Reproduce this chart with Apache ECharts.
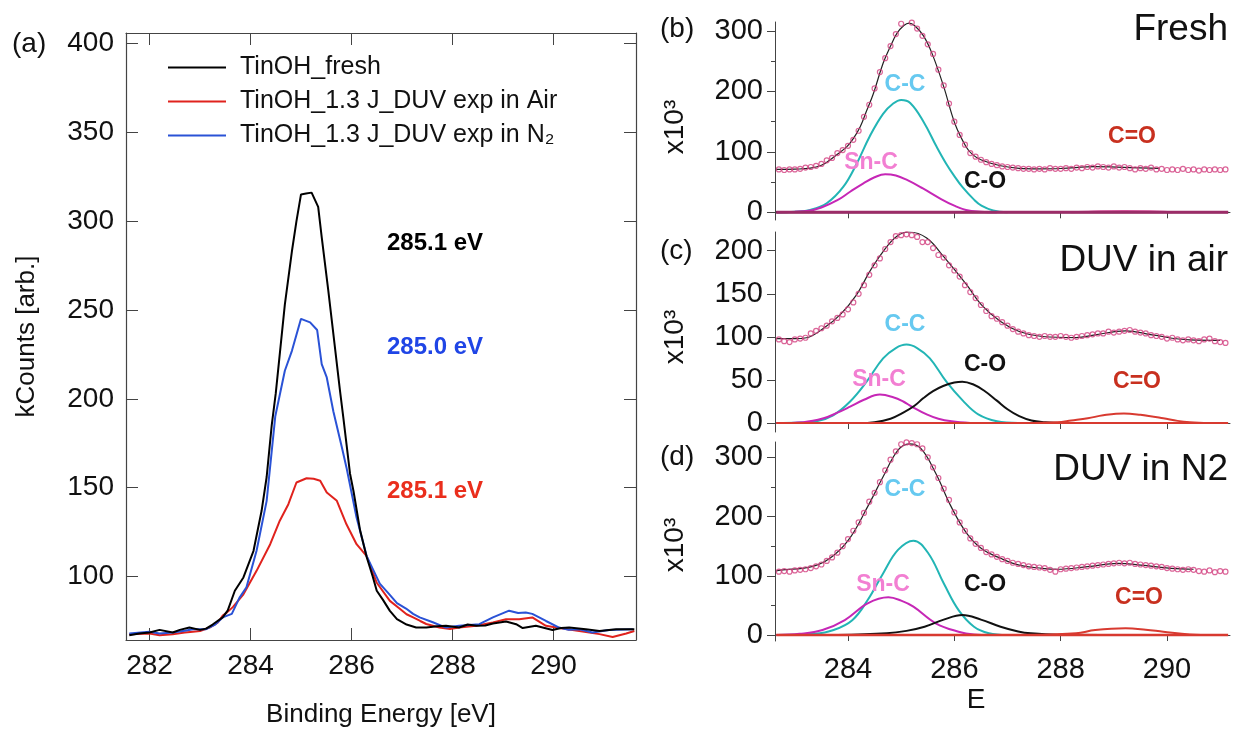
<!DOCTYPE html>
<html lang="en">
<head>
<meta charset="UTF-8">
<title>C1s XPS</title>
<script src="https://cdn.jsdelivr.net/npm/echarts@6/dist/echarts.min.js"></script>
<style>
  html, body { margin: 0; padding: 0; background: #fff; }
  #main { width: 1235px; height: 733px; }
</style>
</head>
<body>
<div id="main"></div>
<script>
// ---- (a) C1s spectra, [binding energy, kCounts]
var freshCurve = [[281.6,67],[281.8,68],[282.0,68.5],[282.2,70],[282.46,68.5],[282.6,70],[282.79,71.3],[283.0,70],[283.12,70.7],[283.25,73],[283.45,77],[283.55,81],[283.69,92],[283.86,99.5],[284.06,114.5],[284.22,137],[284.32,156],[284.42,185],[284.5,203],[284.68,253],[284.82,283],[284.91,300],[285.0,315],[285.1,315.5],[285.21,316],[285.34,308],[285.41,291],[285.54,261],[285.61,244],[285.77,205],[285.84,189],[285.97,158],[286.04,148],[286.17,126],[286.3,111],[286.42,100],[286.5,92],[286.62,87],[286.76,80.7],[286.9,76],[287.09,73],[287.28,71.3],[287.48,71.3],[287.7,72],[287.87,72.3],[288.13,71.3],[288.3,73],[288.47,72.3],[288.65,72.5],[288.8,73.6],[289.06,74.7],[289.26,73.2],[289.39,71],[289.65,72.3],[289.98,69.9],[290.15,71],[290.31,71.3],[290.64,70.4],[290.91,69.4],[291.24,70.4],[291.6,70.4]];
var airCurve = [[281.6,67.6],[282.0,68],[282.2,67],[282.46,67.6],[282.7,68.5],[282.86,69],[283.0,69.4],[283.19,71.3],[283.35,74],[283.45,78],[283.53,79.7],[283.65,82.8],[283.86,90],[284.12,103.2],[284.39,118.2],[284.58,131.4],[284.75,140.7],[284.91,152.9],[285.11,155.3],[285.25,155],[285.38,153.9],[285.51,147.3],[285.71,142.6],[285.9,129.4],[286.1,118.2],[286.3,111.5],[286.5,96.5],[286.76,86.3],[286.95,82],[287.09,78.8],[287.22,77],[287.36,75],[287.48,73.3],[287.74,71.3],[287.95,70.5],[288.13,71.3],[288.47,72.3],[288.8,74.2],[289.06,76],[289.32,76],[289.58,77],[289.85,72.3],[290.11,71],[290.51,69.4],[290.91,67.6],[291.17,66],[291.44,68],[291.6,69.4]];
var n2Curve = [[281.6,68],[282.0,69],[282.2,68],[282.46,68.5],[282.7,69.5],[282.86,70.4],[283.12,70.4],[283.3,73],[283.45,77],[283.63,79],[283.78,88],[283.92,94],[284.12,114.5],[284.32,142.6],[284.49,190],[284.68,215.8],[284.82,227],[285.0,245],[285.18,243],[285.32,238.7],[285.41,219.5],[285.51,212],[285.64,193],[285.81,172.6],[285.9,161.4],[286.1,133.2],[286.3,111.5],[286.56,96],[286.75,90],[286.9,85],[287.08,82],[287.22,79],[287.35,77],[287.61,74.3],[287.87,71.3],[288.13,72.3],[288.53,73.2],[288.8,77],[289.12,80.8],[289.3,79.5],[289.45,79.8],[289.58,79],[289.85,75],[290.11,71.3],[290.3,70],[290.51,70.4],[290.77,68.5],[291.1,69.9],[291.57,70.4]];
var seriesNames = ['TinOH_fresh', 'TinOH_1.3 J_DUV exp in Air', 'TinOH_1.3 J_DUV exp in N\u2082'];
var seriesColors = ['#000000', '#e0221d', '#2a52d6'];
var peakLabels = ['285.1 eV', '285.0 eV', '285.1 eV'];
var xTicksA = [282, 284, 286, 288, 290];
var yTicksA = [100, 150, 200, 250, 300, 350, 400];

// ---- (b)-(d) peak fits, measured points share one energy grid
var dotE = [282.7,282.8,282.9,283.0,283.1,283.2,283.3,283.4,283.5,283.6,283.7,283.8,283.9,284.0,284.1,284.2,284.3,284.4,284.5,284.6,284.7,284.8,284.9,285.0,285.1,285.2,285.3,285.4,285.5,285.6,285.7,285.8,285.9,286.0,286.1,286.2,286.3,286.4,286.5,286.6,286.7,286.8,286.9,287.0,287.1,287.2,287.3,287.4,287.5,287.6,287.7,287.8,287.9,288.0,288.1,288.2,288.3,288.4,288.5,288.6,288.7,288.8,288.9,289.0,289.1,289.2,289.3,289.4,289.5,289.6,289.7,289.8,289.9,290.0,290.1,290.2,290.3,290.4,290.5,290.6,290.7,290.8,290.9,291.0,291.1];
var dotsB = [71,70,71,71,72,74,75,77,80,86, 90,98,103,110,120,135,158,178,205,232, 255,275,295,312,316,314,304,292,278,262, 236,210,180,150,128,112,98,92,87,83, 80,78,76,75,74,73,72,72,71,72, 71,73,72,72,73,72,74,73,75,74, 76,75,74,76,74,75,73,71,73,72, 74,71,72,70,71,70,72,70,71,69, 71,70,71,70,71];
var dotsC = [97,95,94,97,98,99,104,107,110,113, 118,122,126,132,140,150,160,172,183,191, 202,210,217,218,219,218,216,210,210,203, 195,192,183,177,170,160,152,145,137,130, 124,121,117,113,109,106,104,102,101,100, 101,100,100,101,100,99,100,101,102,103, 104,104,106,105,106,107,108,106,105,104, 102,101,100,98,99,97,96,97,96,95, 97,98,95,94,93];
var dotsD = [107,108,107,109,110,111,113,116,119,125, 131,139,150,162,176,190,206,225,240,258, 278,296,310,322,325,324,322,315,300,283, 265,247,228,207,190,176,163,154,147,140, 136,132,128,125,122,120,118,116,115,114, 113,110,107,111,112,113,114,115,116,117, 118,119,120,121,122,121,122,120,119,118, 117,116,115,113,112,111,110,111,110,108, 107,109,106,108,107];

var fitB = [[282.65,71],[283.0,71.5],[283.29,73],[283.5,78],[283.66,86.6],[283.8,96],[283.98,108.6],[284.1,122],[284.23,141.7],[284.35,168],[284.48,197],[284.66,246.7],[284.8,275],[284.92,296],[285.05,309],[285.15,313],[285.25,309],[285.42,292],[285.58,263],[285.8,208],[286.01,147],[286.22,108.6],[286.35,95],[286.51,86.6],[286.87,77],[287.22,72.8],[287.6,72],[288.0,72.5],[288.65,75.5],[289.3,74],[289.86,72.8]];
var ccB = [[282.65,0],[283.0,1],[283.29,4],[283.6,15],[283.91,42],[284.16,80],[284.41,126],[284.66,163],[284.85,180],[285.0,186],[285.17,181],[285.42,150],[285.67,108],[285.85,80],[286.0,60],[286.15,42],[286.37,21],[286.51,11],[286.73,3],[287.0,0]];
var snB = [[282.65,0],[283.0,1],[283.23,2],[283.5,8],[283.8,20],[284.04,34],[284.29,48],[284.5,58],[284.7,63],[284.9,61],[285.1,54],[285.4,40],[285.75,22],[286.0,11],[286.22,4],[286.5,1],[286.8,0]];
var coB = [[282.65,0],[291.15,0]];
var cdoB = [[288.2,0],[288.6,1.5],[289.2,2],[289.8,1.5],[290.1,0]];

var fitC = [[282.65,98],[283.0,98],[283.22,99],[283.54,110],[283.85,125.6],[284.16,148.8],[284.41,176],[284.66,199],[284.92,216.7],[285.15,221.7],[285.48,214.7],[285.8,193],[286.23,160.5],[286.51,137.2],[286.87,117.8],[287.22,106.2],[287.65,100.4],[288.29,99.2],[288.65,102.3],[289.22,107],[289.72,102.3],[290.43,96.5],[291.0,96]];
var ccC = [[282.65,0],[283.1,0.5],[283.41,2],[283.72,9],[284.04,25],[284.35,48],[284.66,75],[284.9,87],[285.1,91],[285.3,87],[285.54,75],[285.85,48],[286.16,26],[286.45,10],[286.8,2],[287.2,0]];
var snC = [[282.65,0],[283.16,1],[283.54,5.5],[283.8,12],[284.04,19],[284.3,27],[284.6,33],[284.85,30],[285.04,25],[285.2,19],[285.48,10],[285.7,5],[285.95,2],[286.3,0]];
var coC = [[284.2,0],[284.5,1],[284.8,5],[285.04,12],[285.25,20],[285.42,29],[285.6,37],[285.79,43],[286.0,47],[286.15,48],[286.35,45],[286.55,38],[286.8,26],[287.0,16],[287.22,8],[287.45,3],[287.7,1],[288.0,0],[290.5,0]];
var cdoC = [[287.3,0],[287.94,1],[288.2,3],[288.51,5.5],[288.8,9],[289.19,11.2],[289.5,9.5],[289.93,5.5],[290.2,2.5],[290.43,1],[290.8,0]];

var fitD = [[282.65,108],[282.73,109.5],[283.3,115],[283.66,129.5],[284.01,160.5],[284.37,216.7],[284.66,267],[284.94,312],[285.15,322.6],[285.37,315],[285.65,273],[285.94,216.7],[286.23,172],[286.51,146],[286.87,129.5],[287.22,118],[287.65,112.6],[287.94,111],[288.51,115.4],[289.08,121],[289.51,118],[290.08,112.6],[290.5,111]];
var ccD = [[282.65,0],[283.37,2],[283.73,8.4],[284.08,25],[284.37,59],[284.66,104],[284.94,143.6],[285.23,159.3],[285.51,138],[285.8,87.3],[286.08,42],[286.37,14],[286.65,3],[287.0,0]];
var snD = [[282.65,0],[283.09,2],[283.52,8.4],[283.94,25.3],[284.37,53.5],[284.76,63.6],[285.0,58],[285.23,47.8],[285.65,19.8],[286.08,5.6],[286.37,1],[286.7,0]];
var coD = [[283.8,0],[284.73,2.8],[285.1,7],[285.44,14],[285.8,26],[286.15,33.8],[286.5,26],[286.87,14],[287.2,6],[287.44,2.8],[287.94,0.5],[290.5,0]];
var cdoD = [[287.5,0],[288.29,2.8],[288.65,8.4],[289.22,11.3],[289.6,9],[289.93,5.6],[290.43,1],[290.9,0]];

var zeroLine = [[282.65,0],[291.15,0]];
var xTicksFit = [284, 286, 288, 290];
var panelTitles = ['Fresh', 'DUV in air', 'DUV in N2'];
var compNames = ['C-C', 'Sn-C', 'C-O', 'C=O'];

var FONT = '"Liberation Sans", Arial, sans-serif';
var AXC = '#444';

function dots(ys) {
    var out = [];
    for (var i = 0; i < ys.length; i++) out.push([dotE[i], ys[i]]);
    return out;
}

function lineSeries(data, color, width, xi, yi, smooth, z) {
    return {
        type: 'line', data: data, xAxisIndex: xi, yAxisIndex: yi,
        showSymbol: false, smooth: smooth, z: z || 2, silent: true,
        itemStyle: { color: color },
        lineStyle: { color: color, width: width }
    };
}

var myChart = echarts.init(document.getElementById('main'));

// fit panel axes
function fitX(gi, labels) {
    return {
        type: 'value', gridIndex: gi, min: 282.627, max: 291.185,
        splitLine: { show: false },
        axisLine: { lineStyle: { color: AXC, width: 1 } },
        axisTick: { customValues: xTicksFit, length: 6, lineStyle: { color: AXC } },
        axisLabel: { show: labels, customValues: xTicksFit, fontSize: 29, fontFamily: FONT, color: '#111', margin: 14 }
    };
}
function fitY(gi, min, max, ticks) {
    return {
        type: 'value', gridIndex: gi, min: min, max: max,
        splitLine: { show: false },
        axisLine: { show: true, lineStyle: { color: AXC, width: 1 } },
        axisTick: { customValues: ticks, length: 8, lineStyle: { color: AXC } },
        axisLabel: { customValues: ticks, fontSize: 29, fontFamily: FONT, color: '#111', margin: 12 }
    };
}
function minorY(gi, min, max, ticks) {
    return {
        type: 'value', gridIndex: gi, min: min, max: max, position: 'left',
        splitLine: { show: false }, axisLine: { show: false },
        axisTick: { customValues: ticks, length: 4, lineStyle: { color: AXC } },
        axisLabel: { show: false }
    };
}

var series = [
    lineSeries(freshCurve, seriesColors[0], 2, 0, 0, false, 4),
    lineSeries(airCurve, seriesColors[1], 2, 0, 0, false, 3),
    lineSeries(n2Curve, seriesColors[2], 2, 0, 0, false, 3)
];
series[0].name = seriesNames[0];
series[1].name = seriesNames[1];
series[2].name = seriesNames[2];

var panels = [
    { xi: 2, yi: 2, fit: fitB, dots: dotsB, cc: ccB, sn: snB, co: coB, cdo: cdoB, cdoColor: '#e060a8', base: '#9c2c68', baseW: 3 },
    { xi: 3, yi: 4, fit: fitC, dots: dotsC, cc: ccC, sn: snC, co: coC, cdo: cdoC, cdoColor: '#d83a30', base: '#d83a30', baseW: 2 },
    { xi: 4, yi: 5, fit: fitD, dots: dotsD, cc: ccD, sn: snD, co: coD, cdo: cdoD, cdoColor: '#d83a30', base: '#d83a30', baseW: 2.5 }
];
panels.forEach(function (p) {
    series.push(lineSeries(p.cc, '#22b5b5', 2, p.xi, p.yi, 0.4, 3));
    series.push(lineSeries(p.sn, '#c627b6', 2, p.xi, p.yi, 0.4, 3));
    series.push(lineSeries(p.co, '#111111', 2, p.xi, p.yi, 0.4, 3));
    series.push(lineSeries(p.cdo, p.cdoColor, 2, p.xi, p.yi, 0.4, 3));
    series.push(lineSeries(zeroLine, p.base, p.baseW, p.xi, p.yi, false, 4));
    series.push(lineSeries(p.fit, '#222222', 1.2, p.xi, p.yi, 0.4, 5));
    series.push({
        type: 'scatter', data: dots(p.dots), xAxisIndex: p.xi, yAxisIndex: p.yi,
        symbol: 'circle', symbolSize: 5, z: 6, silent: true,
        itemStyle: { color: 'rgba(255,255,255,0)', borderColor: '#d2407f', borderWidth: 1.2 }
    });
});

function txt(x, y, s, size, color, opts) {
    opts = opts || {};
    return {
        type: 'text', x: x, y: y, rotation: opts.rot || 0, z: 10, silent: true,
        style: {
            text: s, fill: color, fontSize: size, fontFamily: FONT,
            fontWeight: opts.bold ? 'bold' : 'normal',
            align: opts.align || 'center', textAlign: opts.align || 'center',
            verticalAlign: 'middle', textVerticalAlign: 'middle'
        }
    };
}

var labelColors = ['#66c9f0', '#f27fd2', '#111111', '#c8301f'];
var compPos = [
    [[905, 85], [871, 163], [985, 182], [1132, 137]],
    [[905, 325], [879, 380], [985, 365], [1137, 382]],
    [[905, 490], [883, 585], [985, 585], [1139, 598]]
];
var graphics = [
    txt(12, 44, '(a)', 28, '#111', { align: 'left' }),
    txt(660, 29, '(b)', 28, '#111', { align: 'left' }),
    txt(660, 251, '(c)', 28, '#111', { align: 'left' }),
    txt(660, 457, '(d)', 28, '#111', { align: 'left' }),
    txt(1228, 30, panelTitles[0], 37, '#111', { align: 'right' }),
    txt(1228, 261, panelTitles[1], 37, '#111', { align: 'right' }),
    txt(1228, 470, panelTitles[2], 37, '#111', { align: 'right' }),
    txt(387, 243, peakLabels[0], 24, '#000000', { align: 'left', bold: true }),
    txt(387, 347, peakLabels[1], 24, '#1f45e6', { align: 'left', bold: true }),
    txt(387, 491, peakLabels[2], 24, '#ea2e1c', { align: 'left', bold: true }),
    txt(675, 127, 'x10\u00b3', 28, '#111', { rot: Math.PI / 2 }),
    txt(675, 337, 'x10\u00b3', 28, '#111', { rot: Math.PI / 2 }),
    txt(675, 545, 'x10\u00b3', 28, '#111', { rot: Math.PI / 2 }),
    txt(976, 700, 'E', 28, '#111')
];
compPos.forEach(function (row) {
    row.forEach(function (pos, k) {
        graphics.push(txt(pos[0], pos[1], compNames[k], 23, labelColors[k], { bold: true }));
    });
});

var option = {
    animation: false,
    backgroundColor: '#ffffff',
    textStyle: { fontFamily: FONT },
    grid: [
        { left: 126, top: 33, width: 510, height: 609 },
        { left: 775, top: 22, width: 455, height: 198 },
        { left: 775, top: 232, width: 455, height: 200 },
        { left: 775, top: 442, width: 455, height: 199 }
    ],
    legend: {
        data: seriesNames, orient: 'vertical', left: 163, top: 50,
        icon: 'rect', itemWidth: 58, itemHeight: 2, itemGap: 9,
        textStyle: { fontSize: 25, fontFamily: FONT, color: '#111', padding: [0, 0, 0, 9] }
    },
    xAxis: [
        {
            type: 'value', gridIndex: 0, min: 281.535, max: 291.633,
            splitLine: { show: false },
            axisLine: { lineStyle: { color: AXC, width: 1.2 } },
            axisTick: { inside: true, customValues: xTicksA, length: 12, lineStyle: { color: AXC } },
            axisLabel: { customValues: xTicksA, fontSize: 28, fontFamily: FONT, color: '#111', margin: 12 },
            name: 'Binding Energy [eV]', nameLocation: 'middle', nameGap: 62,
            nameTextStyle: { fontSize: 26, fontFamily: FONT, color: '#111' }
        },
        {
            type: 'value', gridIndex: 0, position: 'top', min: 281.535, max: 291.633,
            splitLine: { show: false },
            axisLine: { lineStyle: { color: AXC, width: 1.2 } },
            axisTick: { inside: true, customValues: xTicksA, length: 12, lineStyle: { color: AXC } },
            axisLabel: { show: false }
        },
        fitX(1, false), fitX(2, false), fitX(3, true)
    ],
    yAxis: [
        {
            type: 'value', gridIndex: 0, min: 64.3, max: 405.8,
            splitLine: { show: false },
            axisLine: { show: true, lineStyle: { color: AXC, width: 1.2 } },
            axisTick: { inside: true, customValues: yTicksA, length: 12, lineStyle: { color: AXC } },
            axisLabel: { customValues: yTicksA, fontSize: 28, fontFamily: FONT, color: '#111', margin: 12 },
            name: 'kCounts [arb.]', nameLocation: 'middle', nameGap: 86, nameRotate: 90,
            nameTextStyle: { fontSize: 26, fontFamily: FONT, color: '#111' }
        },
        {
            type: 'value', gridIndex: 0, position: 'right', min: 64.3, max: 405.8,
            splitLine: { show: false },
            axisLine: { show: true, lineStyle: { color: AXC, width: 1.2 } },
            axisTick: { inside: true, customValues: yTicksA, length: 12, lineStyle: { color: AXC } },
            axisLabel: { show: false }
        },
        fitY(1, -12.7, 314.9, [0, 100, 200, 300]),
        minorY(1, -12.7, 314.9, [50, 150, 250]),
        fitY(2, -10.4, 221.7, [0, 50, 100, 150, 200]),
        fitY(3, -10.1, 325.8, [0, 100, 200, 300]),
        minorY(3, -10.1, 325.8, [50, 150, 250])
    ],
    graphic: graphics,
    series: series
};
myChart.setOption(option);
</script>
</body>
</html>
